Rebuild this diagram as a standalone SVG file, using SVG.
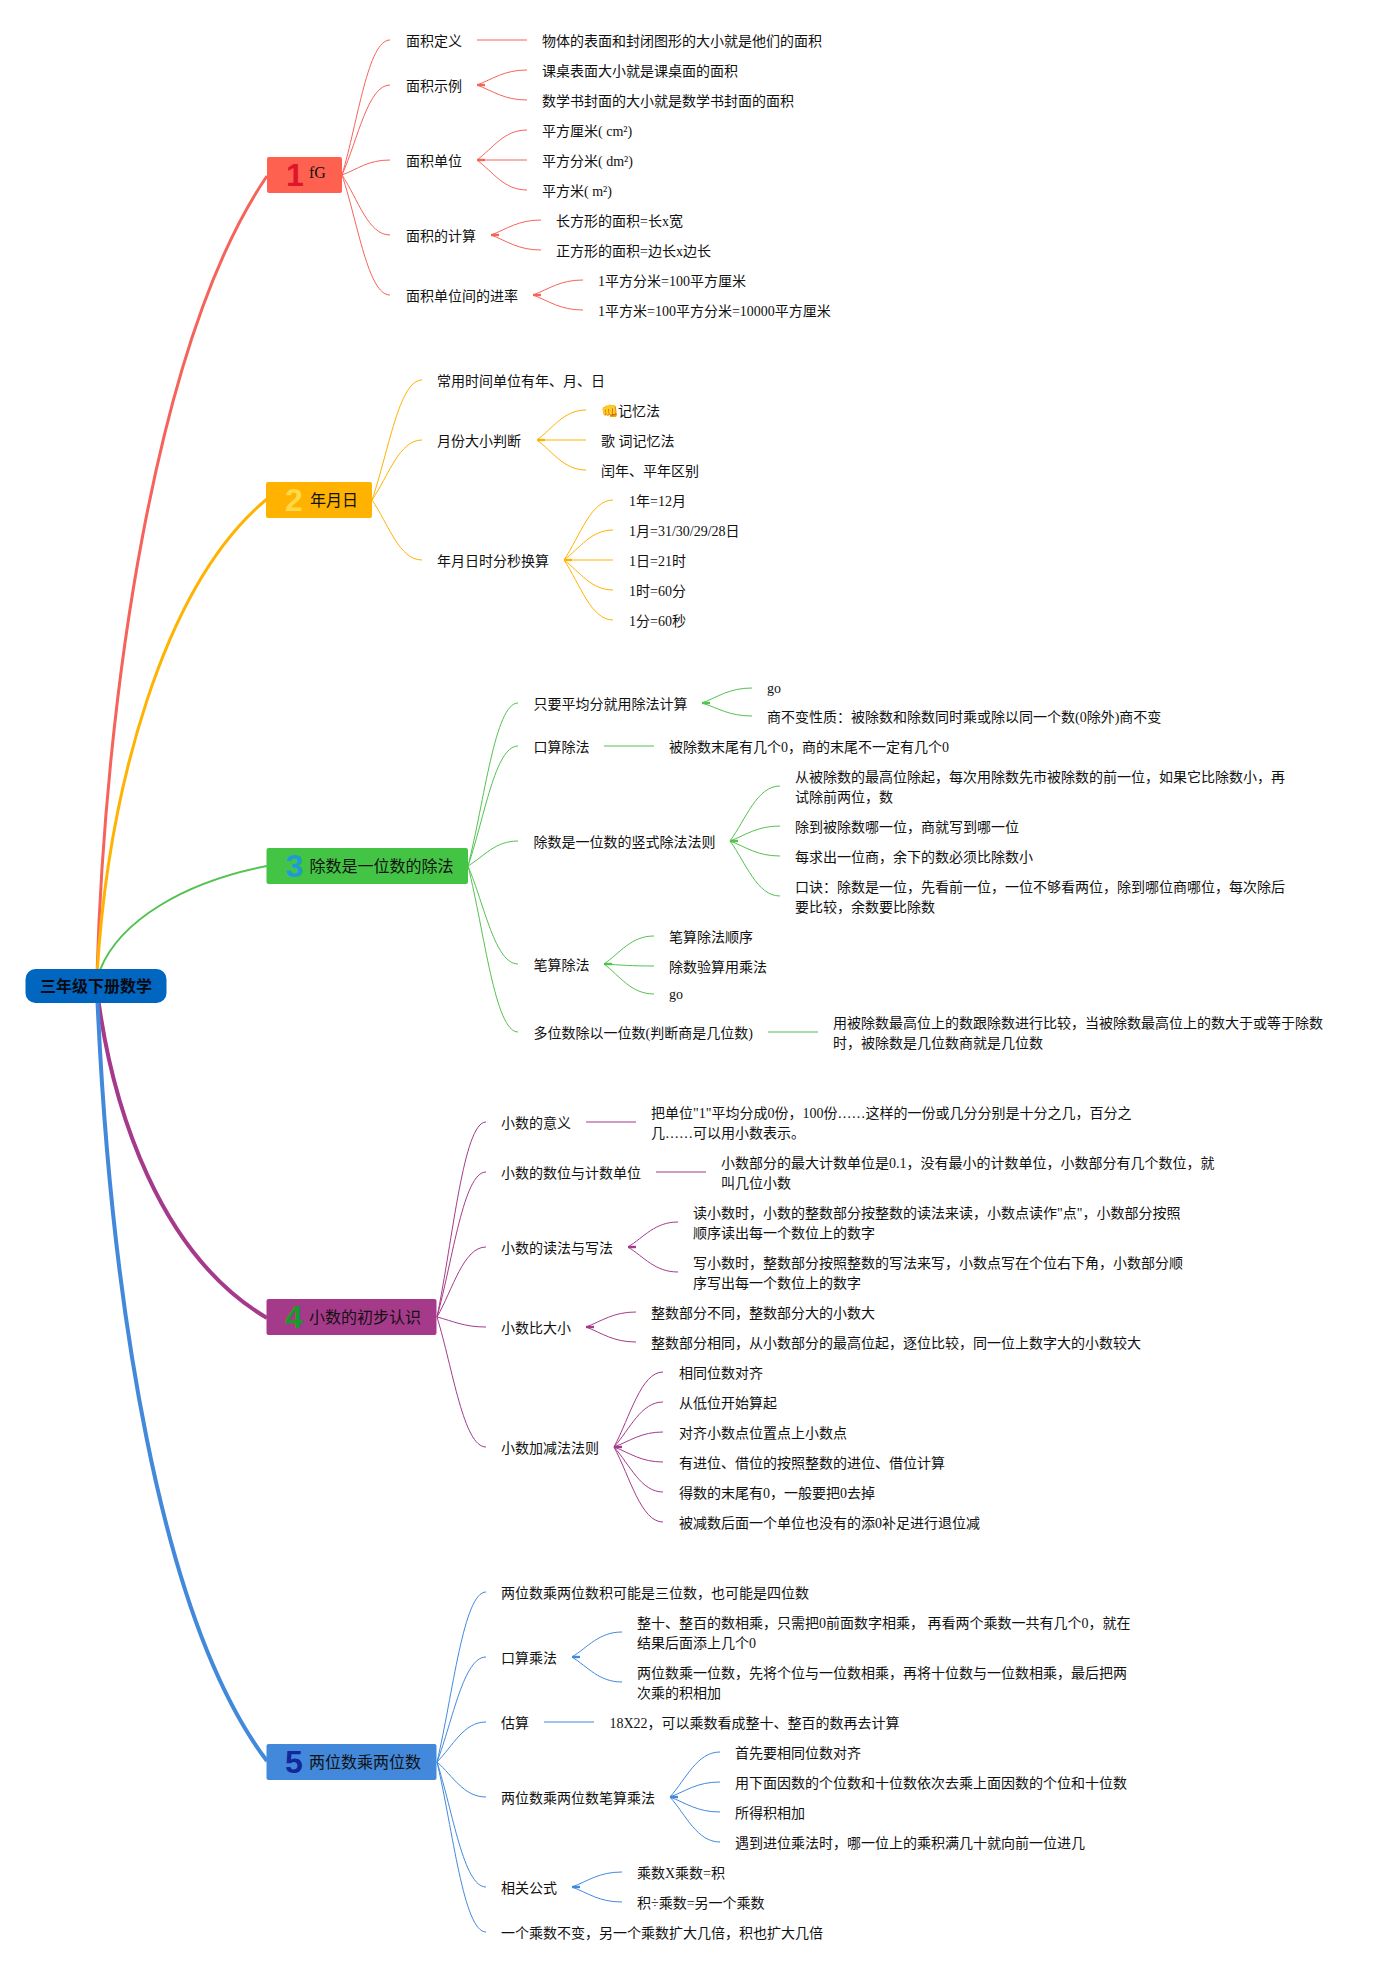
<svg xmlns="http://www.w3.org/2000/svg" width="1393" height="1972" viewBox="0 0 1393 1972">
<style>
text{font-family:"Liberation Serif","Noto Sans CJK SC",serif;font-size:14px;fill:#111}
.lbl{font-size:16px}
.root{font-family:"Noto Sans CJK SC",sans-serif;font-size:16px;font-weight:700;text-anchor:middle;fill:#0a0a14}
.num{font-family:"Liberation Sans",sans-serif;font-size:32px;font-weight:700;text-anchor:middle}
.n1{fill:#e0142a}.n2{fill:#ffd94a}.n3{fill:#1e9bd7}.n4{fill:#1a9a28}.n5{fill:#13269a}
#connectors path{fill:none}
.r{stroke:#f6635a}.o{stroke:#ffb300}.g{stroke:#53c24f}.p{stroke:#a63a8a}.b{stroke:#4289dc}
.t{stroke-width:1}
.s{stroke-width:2;opacity:.5}
.k{stroke-width:2.4}
.m{stroke-width:3}.h{stroke-width:4}.l{stroke-width:2}
</style>
<rect width="1393" height="1972" fill="#fff"/>
<g id="connectors">
<path class="r m" d="M97,975 C105,700 155,340 267,176"/>
<path class="o m" d="M97,975 C108,790 163,585 267,499"/>
<path class="g l" d="M100,970 C120,920 185,882 267,866"/>
<path class="p h" d="M97,990 C112,1110 160,1255 267,1318"/>
<path class="b h" d="M97,990 C110,1300 160,1620 267,1761"/>
<g class="r t">
<path d="M342,175 C358,121 368,40 390,40"/><path d="M342,175 C358,139 368,85 390,85"/><path d="M342,175 C358,169 368,160 390,160"/><path d="M342,175 C358,199 368,235 390,235"/><path d="M342,175 C358,223 368,295 390,295"/>
<path d="M477,85 C493,79 504,70 527,70"/><path d="M477,85 C493,91 504,100 527,100"/>
<path d="M477,160 C493,148 504,130 527,130"/><path d="M477,160 C493,172 504,190 527,190"/>
<path d="M491,235 C507,229 518,220 541,220"/><path d="M491,235 C507,241 518,250 541,250"/>
<path d="M533,295 C549,289 560,280 583,280"/><path d="M533,295 C549,301 560,310 583,310"/>
</g>
<g class="r s"><path d="M477,40 H527"/><path d="M477,160 H527"/></g>
<g class="r k"><path d="M477,85 H485"/><path d="M477,160 H485"/><path d="M491,235 H499"/><path d="M533,295 H541"/></g>
<g class="o t">
<path d="M372,500 C388.500,452 399,380 422,380"/><path d="M372,500 C388.500,476 399,440 422,440"/><path d="M372,500 C388.500,524 399,560 422,560"/>
<path d="M537,440 C553,428 564,410 586,410"/><path d="M537,440 C553,452 564,470 586,470"/>
<path d="M564,560 C580,536 591,500 613,500"/><path d="M564,560 C580,548 591,530 613,530"/><path d="M564,560 C580,572 591,590 613,590"/><path d="M564,560 C580,584 591,620 613,620"/>
</g>
<g class="o s"><path d="M537,440 H586"/><path d="M564,560 H613"/></g>
<g class="o k"><path d="M537,440 H545"/><path d="M564,560 H572"/></g>
<g class="g t">
<path d="M468,866 C484.500,801 495,703 518,703"/><path d="M468,866 C484.500,818 495,746 518,746"/><path d="M468,866 C484.500,856 495,841 518,841"/><path d="M468,866 C484.500,905 495,964 518,964"/><path d="M468,866 C484.500,932 495,1032 518,1032"/>
<path d="M702,703 C718,697 729,688 752,688"/><path d="M702,703 C718,708 729,716 752,716"/>
<path d="M730,841 C746,819 757,786 780,786"/><path d="M730,841 C746,835 757,826 780,826"/><path d="M730,841 C746,847 757,856 780,856"/><path d="M730,841 C746,863 757,896 780,896"/>
<path d="M604,964 C620,953 631,936 654,936"/><path d="M604,964 C620,965 631,966 654,966"/><path d="M604,964 C620,976 631,994 654,994"/>
</g>
<g class="g s"><path d="M604,746 H654"/><path d="M768,1032 H818"/></g>
<g class="g k"><path d="M702,703 H710"/><path d="M730,841 H738"/><path d="M604,964 H612"/></g>
<g class="p t">
<path d="M437,1317 C453,1239 463.500,1122 486,1122"/><path d="M437,1317 C453,1259 463.500,1172 486,1172"/><path d="M437,1317 C453,1289 463.500,1247 486,1247"/><path d="M437,1317 C453,1321 463.500,1327 486,1327"/><path d="M437,1317 C453,1369 463.500,1447 486,1447"/>
<path d="M628,1247 C644,1237 655,1222 678,1222"/><path d="M628,1247 C644,1257 655,1272 678,1272"/>
<path d="M586,1327 C602,1321 613,1312 636,1312"/><path d="M586,1327 C602,1333 613,1342 636,1342"/>
<path d="M614,1447 C630,1417 641,1372 663,1372"/><path d="M614,1447 C630,1429 641,1402 663,1402"/><path d="M614,1447 C630,1441 641,1432 663,1432"/><path d="M614,1447 C630,1453 641,1462 663,1462"/><path d="M614,1447 C630,1465 641,1492 663,1492"/><path d="M614,1447 C630,1477 641,1522 663,1522"/>
</g>
<g class="p s"><path d="M586,1122 H636"/><path d="M656,1172 H706"/></g>
<g class="p k"><path d="M628,1247 H636"/><path d="M586,1327 H594"/><path d="M614,1447 H622"/></g>
<g class="b t">
<path d="M437,1762 C453,1694 463.500,1592 486,1592"/><path d="M437,1762 C453,1720 463.500,1657 486,1657"/><path d="M437,1762 C453,1746 463.500,1722 486,1722"/><path d="M437,1762 C453,1776 463.500,1797 486,1797"/><path d="M437,1762 C453,1812 463.500,1887 486,1887"/><path d="M437,1762 C453,1830 463.500,1932 486,1932"/>
<path d="M572,1657 C588,1647 599,1632 622,1632"/><path d="M572,1657 C588,1667 599,1682 622,1682"/>
<path d="M670,1797 C686,1779 697,1752 720,1752"/><path d="M670,1797 C686,1791 697,1782 720,1782"/><path d="M670,1797 C686,1803 697,1812 720,1812"/><path d="M670,1797 C686,1815 697,1842 720,1842"/>
<path d="M572,1887 C588,1881 599,1872 622,1872"/><path d="M572,1887 C588,1893 599,1902 622,1902"/>
</g>
<g class="b s"><path d="M544,1722 H594"/></g>
<g class="b k"><path d="M572,1657 H580"/><path d="M670,1797 H678"/><path d="M572,1887 H580"/></g>
</g>
<g id="root"><rect x="25.500" y="969" width="141" height="34" rx="10" fill="#0066bf"/><text class="root" x="96" y="992">三年级下册数学</text></g>
<g id="topic1"><rect x="267" y="157" width="75" height="36" rx="2" fill="#ff6151"/><text class="num n1" x="295" y="186">1</text><text class="lbl" x="309" y="177.500">fG</text></g>
<g id="topic2"><rect x="266" y="482" width="106" height="36" rx="2" fill="#ffb300"/><text class="num n2" x="294" y="511">2</text><text class="lbl" x="310" y="506">年月日</text></g>
<g id="topic3"><rect x="266.500" y="848" width="201.500" height="36" rx="2" fill="#44c444"/><text class="num n3" x="294.500" y="877">3</text><text class="lbl" x="309.500" y="872">除数是一位数的除法</text></g>
<g id="topic4"><rect x="266.500" y="1299" width="170" height="36" rx="2" fill="#a63a8a"/><text class="num n4" x="294" y="1328">4</text><text class="lbl" x="309" y="1323">小数的初步认识</text></g>
<g id="topic5"><rect x="266.500" y="1744" width="170" height="36" rx="2" fill="#4289dc"/><text class="num n5" x="294" y="1773">5</text><text class="lbl" x="309" y="1768">两位数乘两位数</text></g>
<g id="n1-1"><text x="406" y="46">面积定义</text></g>
<g id="n1-1-1"><text x="542" y="46">物体的表面和封闭图形的大小就是他们的面积</text></g>
<g id="n1-2"><text x="406" y="91">面积示例</text></g>
<g id="n1-2-1"><text x="542" y="76">课桌表面大小就是课桌面的面积</text></g>
<g id="n1-2-2"><text x="542" y="106">数学书封面的大小就是数学书封面的面积</text></g>
<g id="n1-3"><text x="406" y="166">面积单位</text></g>
<g id="n1-3-1"><text x="542" y="136">平方厘米( cm²)</text></g>
<g id="n1-3-2"><text x="542" y="166">平方分米( dm²)</text></g>
<g id="n1-3-3"><text x="542" y="196">平方米( m²)</text></g>
<g id="n1-4"><text x="406" y="241">面积的计算</text></g>
<g id="n1-4-1"><text x="556" y="226">长方形的面积=长x宽</text></g>
<g id="n1-4-2"><text x="556" y="256">正方形的面积=边长x边长</text></g>
<g id="n1-5"><text x="406" y="301">面积单位间的进率</text></g>
<g id="n1-5-1"><text x="598" y="286">1平方分米=100平方厘米</text></g>
<g id="n1-5-2"><text x="598" y="316">1平方米=100平方分米=10000平方厘米</text></g>
<g id="n2-1"><text x="437" y="386">常用时间单位有年、月、日</text></g>
<g id="n2-2"><text x="437" y="446">月份大小判断</text></g>
<g id="n2-2-1"><text x="601" y="416">👊记忆法</text></g>
<g id="n2-2-2"><text x="601" y="446">歌 词记忆法</text></g>
<g id="n2-2-3"><text x="601" y="476">闰年、平年区别</text></g>
<g id="n2-3"><text x="437" y="566">年月日时分秒换算</text></g>
<g id="n2-3-1"><text x="629" y="506">1年=12月</text></g>
<g id="n2-3-2"><text x="629" y="536">1月=31/30/29/28日</text></g>
<g id="n2-3-3"><text x="629" y="566">1日=21时</text></g>
<g id="n2-3-4"><text x="629" y="596">1时=60分</text></g>
<g id="n2-3-5"><text x="629" y="626">1分=60秒</text></g>
<g id="n3-1"><text x="533.500" y="709">只要平均分就用除法计算</text></g>
<g id="n3-1-1"><text x="767" y="693">go</text></g>
<g id="n3-1-2"><text x="767" y="722">商不变性质：被除数和除数同时乘或除以同一个数(0除外)商不变</text></g>
<g id="n3-2"><text x="533.500" y="752">口算除法</text></g>
<g id="n3-2-1"><text x="669" y="752">被除数末尾有几个0，商的末尾不一定有几个0</text></g>
<g id="n3-3"><text x="533.500" y="847">除数是一位数的竖式除法法则</text></g>
<g id="n3-3-1"><text x="795" y="782">从被除数的最高位除起，每次用除数先市被除数的前一位，如果它比除数小，再</text><text x="795" y="802">试除前两位，数</text></g>
<g id="n3-3-2"><text x="795" y="832">除到被除数哪一位，商就写到哪一位</text></g>
<g id="n3-3-3"><text x="795" y="862">每求出一位商，余下的数必须比除数小</text></g>
<g id="n3-3-4"><text x="795" y="892">口诀：除数是一位，先看前一位，一位不够看两位，除到哪位商哪位，每次除后</text><text x="795" y="912">要比较，余数要比除数</text></g>
<g id="n3-4"><text x="533.500" y="970">笔算除法</text></g>
<g id="n3-4-1"><text x="669" y="942">笔算除法顺序</text></g>
<g id="n3-4-2"><text x="669" y="972">除数验算用乘法</text></g>
<g id="n3-4-3"><text x="669" y="999">go</text></g>
<g id="n3-5"><text x="533.500" y="1038">多位数除以一位数(判断商是几位数)</text></g>
<g id="n3-5-1"><text x="833" y="1028">用被除数最高位上的数跟除数进行比较，当被除数最高位上的数大于或等于除数</text><text x="833" y="1048">时，被除数是几位数商就是几位数</text></g>
<g id="n4-1"><text x="501" y="1128">小数的意义</text></g>
<g id="n4-1-1"><text x="651" y="1118">把单位"1"平均分成0份，100份……这样的一份或几分分别是十分之几，百分之</text><text x="651" y="1138">几……可以用小数表示。</text></g>
<g id="n4-2"><text x="501" y="1178">小数的数位与计数单位</text></g>
<g id="n4-2-1"><text x="721" y="1168">小数部分的最大计数单位是0.1，没有最小的计数单位，小数部分有几个数位，就</text><text x="721" y="1188">叫几位小数</text></g>
<g id="n4-3"><text x="501" y="1253">小数的读法与写法</text></g>
<g id="n4-3-1"><text x="693" y="1218">读小数时，小数的整数部分按整数的读法来读，小数点读作"点"，小数部分按照</text><text x="693" y="1238">顺序读出每一个数位上的数字</text></g>
<g id="n4-3-2"><text x="693" y="1268">写小数时，整数部分按照整数的写法来写，小数点写在个位右下角，小数部分顺</text><text x="693" y="1288">序写出每一个数位上的数字</text></g>
<g id="n4-4"><text x="501" y="1333">小数比大小</text></g>
<g id="n4-4-1"><text x="651" y="1318">整数部分不同，整数部分大的小数大</text></g>
<g id="n4-4-2"><text x="651" y="1348">整数部分相同，从小数部分的最高位起，逐位比较，同一位上数字大的小数较大</text></g>
<g id="n4-5"><text x="501" y="1453">小数加减法法则</text></g>
<g id="n4-5-1"><text x="679" y="1378">相同位数对齐</text></g>
<g id="n4-5-2"><text x="679" y="1408">从低位开始算起</text></g>
<g id="n4-5-3"><text x="679" y="1438">对齐小数点位置点上小数点</text></g>
<g id="n4-5-4"><text x="679" y="1468">有进位、借位的按照整数的进位、借位计算</text></g>
<g id="n4-5-5"><text x="679" y="1498">得数的末尾有0，一般要把0去掉</text></g>
<g id="n4-5-6"><text x="679" y="1528">被减数后面一个单位也没有的添0补足进行退位减</text></g>
<g id="n5-1"><text x="501" y="1598">两位数乘两位数积可能是三位数，也可能是四位数</text></g>
<g id="n5-2"><text x="501" y="1663">口算乘法</text></g>
<g id="n5-2-1"><text x="637" y="1628">整十、整百的数相乘，只需把0前面数字相乘， 再看两个乘数一共有几个0，就在</text><text x="637" y="1648">结果后面添上几个0</text></g>
<g id="n5-2-2"><text x="637" y="1678">两位数乘一位数，先将个位与一位数相乘，再将十位数与一位数相乘，最后把两</text><text x="637" y="1698">次乘的积相加</text></g>
<g id="n5-3"><text x="501" y="1728">估算</text></g>
<g id="n5-3-1"><text x="609.500" y="1728">18X22，可以乘数看成整十、整百的数再去计算</text></g>
<g id="n5-4"><text x="501" y="1803">两位数乘两位数笔算乘法</text></g>
<g id="n5-4-1"><text x="735" y="1758">首先要相同位数对齐</text></g>
<g id="n5-4-2"><text x="735" y="1788">用下面因数的个位数和十位数依次去乘上面因数的个位和十位数</text></g>
<g id="n5-4-3"><text x="735" y="1818">所得积相加</text></g>
<g id="n5-4-4"><text x="735" y="1848">遇到进位乘法时，哪一位上的乘积满几十就向前一位进几</text></g>
<g id="n5-5"><text x="501" y="1893">相关公式</text></g>
<g id="n5-5-1"><text x="637" y="1878">乘数X乘数=积</text></g>
<g id="n5-5-2"><text x="637" y="1908">积÷乘数=另一个乘数</text></g>
<g id="n5-6"><text x="501" y="1938">一个乘数不变，另一个乘数扩大几倍，积也扩大几倍</text></g>
</svg>
